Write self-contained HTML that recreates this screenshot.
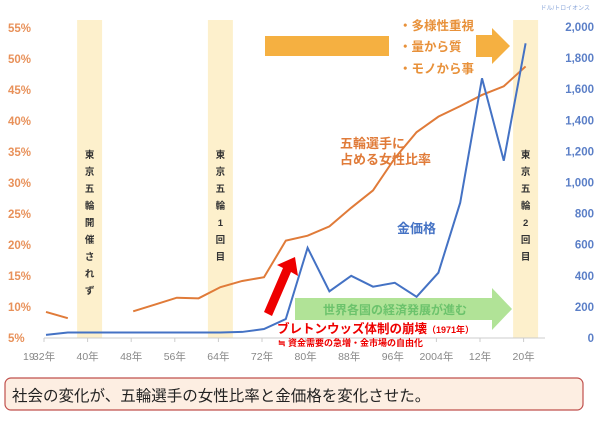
<!DOCTYPE html>
<html><head><meta charset="utf-8">
<style>
body{margin:0;background:#fff;width:600px;height:417px;overflow:hidden;font-family:"Liberation Sans","Noto Sans CJK JP",sans-serif}
svg text{font-family:"Liberation Sans","Noto Sans CJK JP",sans-serif}
</style></head>
<body>
<svg width="600" height="417" viewBox="0 0 600 417">
<g id="bands"></g>
<g id="axes"></g>
<rect x="265" y="36" width="124" height="20" fill="#f5b041"/>
<polygon points="476,35 492,35 492,28 510,46 492,64 492,57 476,57" fill="#f5b041"/>
<text x="399" y="30" font-size="12.5" fill="#e8913a" font-weight="bold">・多様性重視</text>
<text x="399" y="51" font-size="12.5" fill="#e8913a" font-weight="bold">・量から質</text>
<text x="399" y="73" font-size="12.5" fill="#e8913a" font-weight="bold">・モノから事</text>
<polygon points="295,298 492,298 492,288 512,309 492,330 492,320 295,320" fill="#a9e08c" opacity="0.9"/>
<text x="395" y="314" font-size="12" fill="#6cc36c" text-anchor="middle" font-weight="bold">世界各国の経済発展が進む</text>
<g id="series"></g>
<polygon points="264,312 283,268 277,265 295,257 298,276 291,272 272,316" fill="#e00"/>
<text x="277" y="333" font-size="12.5" fill="#e00" font-weight="bold">ブレトンウッズ体制の崩壊<tspan font-size="9">（1971年）</tspan></text>
<text x="278" y="346" font-size="9" fill="#e00" font-weight="bold">≒ 資金需要の急増・金市場の自由化</text>
<text x="340" y="148" font-size="13" fill="#e07b39" font-weight="bold">五輪選手に</text>
<text x="340" y="164" font-size="13" fill="#e07b39" font-weight="bold">占める女性比率</text>
<text x="397" y="233" font-size="13" fill="#4472c4" font-weight="bold">金価格</text>
<text x="590" y="10" font-size="6" fill="#8ea9db" text-anchor="end">ドル/トロイオンス</text>
<rect x="5" y="378" width="578" height="32" rx="6" fill="#fdeee2" stroke="#c0504d" stroke-width="1.2"/>
<text x="12" y="401" font-size="15.5" fill="#222">社会の変化が、五輪選手の女性比率と金価格を変化させた。</text>
</svg>
<script>
const ratioYears=[1932,1936,null,1948,1952,1956,1960,1964,1968,1972,1976,1980,1984,1988,1992,1996,2000,2004,2008,2012,2016,2020];
const ratioValues=[9.2,8.2,null,9.3,10.4,11.5,11.4,13.2,14.2,14.8,20.7,21.5,23,26,28.8,34,38.2,40.7,42.4,44.2,45.6,48.8];
const goldYears=[1932,1936,1940,1948,1952,1956,1960,1964,1968,1972,1976,1980,1984,1988,1992,1996,2000,2004,2008,2012,2016,2020];
const goldValues=[20,35,35,35,35,35,35,35,39,58,122,580,300,400,330,355,265,420,870,1670,1140,1895];
const leftTicks=["5%","10%","15%","20%","25%","30%","35%","40%","45%","50%","55%"];
const rightTicks=["0","200","400","600","800","1,000","1,200","1,400","1,600","1,800","2,000"];
const xTickYears=[1932,1940,1948,1956,1964,1972,1980,1988,1996,2004,2012,2020];
const xTickLabels=["32年","40年","48年","56年","64年","72年","80年","88年","96年","2004年","12年","20年"];
const bandYears=[1940,1964,2020];
const bandLabels=[["東","京","五","輪","開","催","さ","れ","ず"],["東","京","五","輪","1","回","目"],["東","京","五","輪","2","回","目"]];
const NS="http://www.w3.org/2000/svg";
const xs=y=>46+(y-1932)*5.45;
const yl=v=>338-(v-5)*6.2;
const yr=v=>338-v*311/2000;
function mk(t,a,p){const e=document.createElementNS(NS,t);for(const k in a)e.setAttribute(k,a[k]);p.appendChild(e);return e;}
const bands=document.getElementById('bands'),axes=document.getElementById('axes'),ser=document.getElementById('series');
bandYears.forEach((y,i)=>{const r=mk('rect',{x:xs(y)-12.5,y:20,width:25,height:318,fill:'#fdf0cc'},bands);


bandLabels[i].forEach((c,j)=>{const t=mk('text',{x:xs(y),y:158+j*17,'font-size':9.5,'font-weight':'bold',fill:'#333','text-anchor':'middle'},bands);t.textContent=c;

});});
leftTicks.forEach((l,i)=>{const t=mk('text',{x:8,y:yl(5+i*5)+4,'font-size':11.5,'font-weight':'bold',fill:'#e8915a'},axes);t.textContent=l;

});
rightTicks.forEach((l,i)=>{const t=mk('text',{x:594,y:yr(i*200)+4,'font-size':11.5,'font-weight':'bold',fill:'#5b7fc7','text-anchor':'end'},axes);t.textContent=l;

});
const ax=mk('line',{x1:44,y1:338,x2:545,y2:338,stroke:'#ccc'},axes);


xTickYears.forEach((y,i)=>{mk('line',{x1:xs(y)-2,y1:338,x2:xs(y)-2,y2:342,stroke:'#ccc'},axes);
const t=mk('text',{x:xs(y)-2,y:360,'font-size':10.5,fill:'#888','text-anchor':'middle'},axes);t.textContent=xTickLabels[i];

});
const t19=mk('text',{x:23,y:360,'font-size':10.5,fill:'#888'},axes);t19.textContent="19";


let segs=[[]];ratioYears.forEach((y,i)=>{if(y===null){segs.push([]);return;}segs[segs.length-1].push(xs(y)+','+yl(ratioValues[i]));});
segs.forEach(s=>{const p=mk('polyline',{points:s.join(' '),fill:'none',stroke:'#e07b39','stroke-width':2},ser);

});
const g=mk('polyline',{points:goldYears.map((y,i)=>xs(y)+','+yr(goldValues[i])).join(' '),fill:'none',stroke:'#4472c4','stroke-width':2},ser);


</script>
</body></html>
